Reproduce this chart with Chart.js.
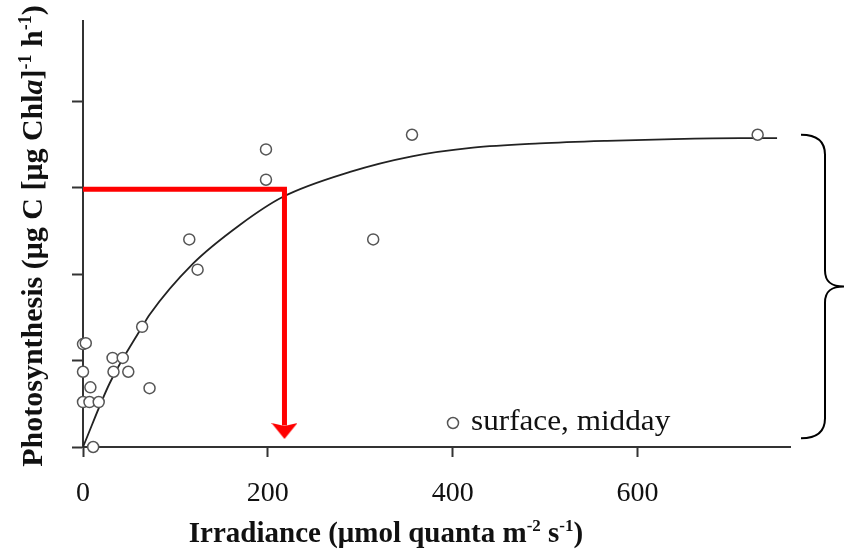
<!doctype html>
<html lang="en">
  <head>
    <meta charset="utf-8">
    <title>Photosynthesis vs irradiance</title>
    <script src="https://cdn.jsdelivr.net/npm/chart.js"></script>
    <style>
      body { margin: 0; background: #fff; }
    </style>
  </head>
  <body>
    <canvas id="piChart" width="846" height="555"></canvas>

    <script>
    // observed points (surface, midday)
    const obsIrr = [0, 3, 0, 8, 0, 7, 17, 11, 32, 43, 33, 49, 64, 72, 115, 124, 198, 198, 314, 356, 730];
    const obsPs  = [1.19, 1.20, 0.87, 0.69, 0.52, 0.52, 0.52, 0.0, 1.03, 1.03, 0.87, 0.87, 1.39, 0.68, 2.40, 2.05, 3.44, 3.09, 2.40, 3.61, 3.61];

    // fitted P-I curve
    const fitIrr = [0, 29, 64, 72, 119, 170, 216, 289, 356, 422, 494, 567, 639, 711, 751];
    const fitPs  = [0, 0.74, 1.39, 1.53, 2.12, 2.57, 2.89, 3.18, 3.36, 3.46, 3.51, 3.54, 3.56, 3.57, 3.57];

    // red guide: horizontal then down to the axis
    const guideIrr = [0, 218, 218];
    const guidePs  = [2.98, 2.98, 0.25];
    const arrowIrr = [218];
    const arrowPs  = [0.185];

    const xTicks = [0, 200, 400, 600];

    const toXY = (xs, ys) => xs.map((x, i) => ({ x: x, y: ys[i] }));

    const serif = "'Liberation Serif', 'Times New Roman', serif";
    const ink = '#111';
    const axisCol = '#333';

    // arrow head shape used as a point style
    const arrowHead = document.createElement('canvas');
    arrowHead.width = 26;
    arrowHead.height = 18;
    (function () {
      const c = arrowHead.getContext('2d');
      c.fillStyle = '#ff0000';
      c.beginPath();
      c.moveTo(0, 1);
      c.lineTo(13, 4);
      c.lineTo(26, 1);
      c.lineTo(13, 17);
      c.closePath();
      c.fill();
    })();

    // text with superscripts / italics
    function drawRich(ctx, segs, x, y) {
      let total = 0;
      segs.forEach(s => { ctx.font = s.font; s.w = ctx.measureText(s.t).width; total += s.w; });
      let cx = x - total / 2;
      segs.forEach(s => {
        ctx.font = s.font;
        ctx.fillText(s.t, cx, y - (s.rise || 0));
        cx += s.w;
      });
    }

    const extras = {
      id: 'extras',
      afterDraw(chart) {
        const ctx = chart.ctx;
        const ca = chart.chartArea;
        const ys = chart.scales.y;
        ctx.save();
        ctx.fillStyle = ink;
        ctx.textBaseline = 'alphabetic';
        ctx.textAlign = 'left';

        // x title
        const b = 'bold 29px ' + serif;
        const sup = 'bold 17px ' + serif;
        drawRich(ctx, [
          { t: 'Irradiance (\u03bcmol quanta m', font: b },
          { t: '-2', font: sup, rise: 11 },
          { t: ' s', font: b },
          { t: '-1', font: sup, rise: 11 },
          { t: ')', font: b }
        ], 386, 542);

        // y title (rotated)
        ctx.save();
        ctx.translate(42, 236);
        ctx.rotate(-Math.PI / 2);
        const yb = 'bold 30px ' + serif;
        const ysup = 'bold 18px ' + serif;
        drawRich(ctx, [
          { t: 'Photosynthesis (\u03bcg C [\u03bcg Chl', font: yb },
          { t: 'a', font: 'italic bold 30px ' + serif },
          { t: ']', font: yb },
          { t: '-1', font: ysup, rise: 11 },
          { t: ' h', font: yb },
          { t: '-1', font: ysup, rise: 11 },
          { t: ')', font: yb }
        ], 0, 0);
        ctx.restore();

        // legend
        ctx.strokeStyle = '#555';
        ctx.lineWidth = 1.5;
        ctx.fillStyle = '#fff';
        ctx.beginPath();
        ctx.arc(ca.left + 370, 423, 5.5, 0, Math.PI * 2);
        ctx.fill();
        ctx.stroke();
        ctx.fillStyle = ink;
        ctx.font = '30px ' + serif;
        ctx.save();
        ctx.translate(ca.left + 388, 430);
        ctx.scale(1.04, 1);
        ctx.fillText('surface, midday', 0, 0);
        ctx.restore();

        // brace to the right
        const top = ys.getPixelForValue(3.61);
        const bot = ys.getPixelForValue(0.1);
        const mid = (top + bot) / 2;
        const x0 = ca.right + 11, x1 = ca.right + 35, x2 = ca.right + 54;
        ctx.strokeStyle = '#000';
        ctx.lineWidth = 2;
        ctx.beginPath();
        ctx.moveTo(x0, top);
        ctx.bezierCurveTo(x0 + 15, top, x1, top + 6, x1, top + 20);
        ctx.lineTo(x1, mid - 16);
        ctx.bezierCurveTo(x1, mid - 4, x1 + 7, mid, x2, mid);
        ctx.bezierCurveTo(x1 + 7, mid, x1, mid + 4, x1, mid + 16);
        ctx.lineTo(x1, bot - 20);
        ctx.bezierCurveTo(x1, bot - 6, x0 + 15, bot, x0, bot);
        ctx.stroke();

        ctx.restore();
      }
    };

    const axisGrid = {
      display: true,
      drawOnChartArea: false,
      drawTicks: true,
      tickLength: 10,
      tickWidth: 2,
      tickColor: axisCol
    };

    new Chart(document.getElementById('piChart'), {
      type: 'scatter',
      data: {
        datasets: [
          {
            label: 'surface, midday',
            data: toXY(obsIrr, obsPs),
            pointStyle: 'circle',
            pointRadius: 5.5,
            pointBorderWidth: 1.5,
            pointBorderColor: '#555',
            pointBackgroundColor: '#fff',
            showLine: false,
            clip: false
          },
          {
            label: 'arrow',
            data: toXY(arrowIrr, arrowPs),
            pointStyle: arrowHead,
            pointRadius: 9,
            showLine: false,
            clip: false
          },
          {
            label: 'guide',
            data: toXY(guideIrr, guidePs),
            showLine: true,
            borderColor: '#ff0000',
            borderWidth: 5,
            borderJoinStyle: 'miter',
            pointRadius: 0,
            tension: 0,
            clip: false
          },
          {
            label: 'fit',
            data: toXY(fitIrr, fitPs),
            showLine: true,
            borderColor: '#222',
            borderWidth: 1.8,
            pointRadius: 0,
            cubicInterpolationMode: 'monotone'
          }
        ]
      },
      options: {
        responsive: false,
        animation: false,
        layout: { padding: { left: 63, right: 56, top: 21, bottom: 0 } },
        plugins: {
          legend: { display: false },
          tooltip: { enabled: false }
        },
        scales: {
          x: {
            type: 'linear',
            min: 0,
            max: 765,
            afterBuildTicks: scale => { scale.ticks = xTicks.map(v => ({ value: v })); },
            afterFit: scale => { scale.height = 108; },
            ticks: {
              font: { family: serif, size: 28 },
              color: ink,
              padding: 20,
              maxRotation: 0
            },
            grid: axisGrid,
            border: { display: true, color: axisCol, width: 2 }
          },
          y: {
            min: 0,
            max: 4.925,
            afterBuildTicks: scale => { scale.ticks = [0, 1, 2, 3, 4].map(v => ({ value: v })); },
            afterFit: scale => { scale.width = 20; },
            ticks: { display: false },
            grid: Object.assign({}, axisGrid, { tickLength: 11 }),
            border: { display: true, color: axisCol, width: 2 }
          }
        }
      },
      plugins: [extras]
    });
    </script>
  </body>
</html>
